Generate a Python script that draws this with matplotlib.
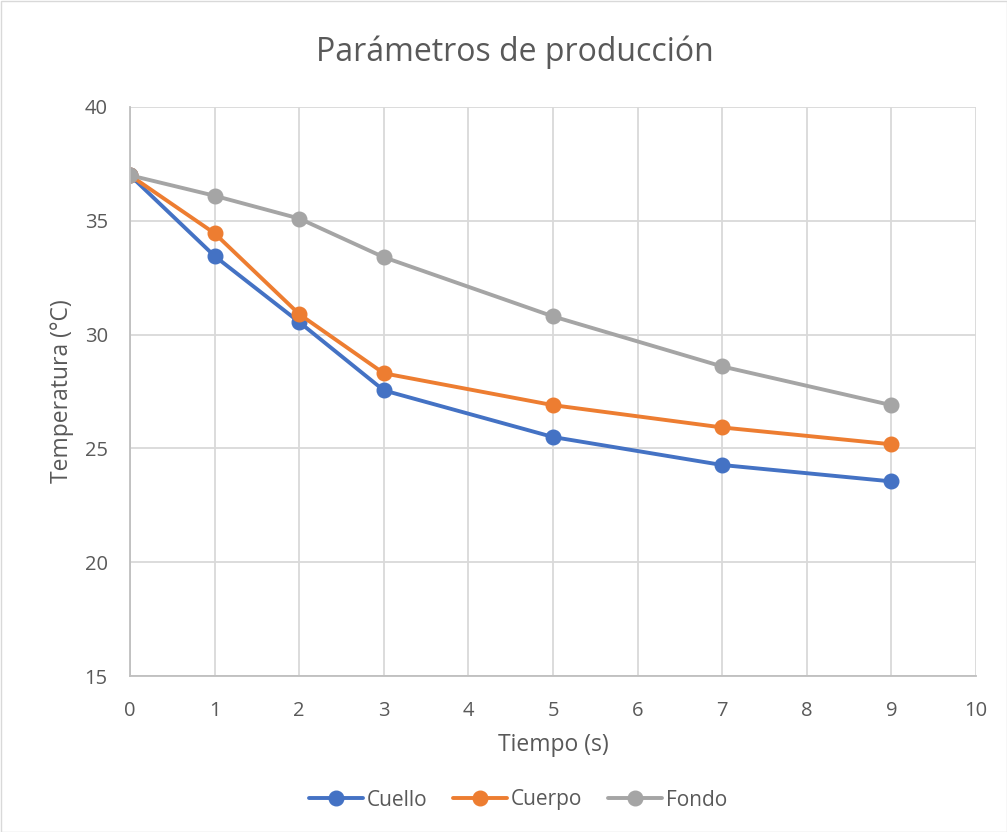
import matplotlib
matplotlib.use("Agg")
import matplotlib.pyplot as plt
from matplotlib.patches import Rectangle

tiempo = [0, 1, 2, 3, 5, 7, 9]
cuello = [37.0, 33.45, 30.55, 27.55, 25.5, 24.27, 23.55]
cuerpo = [37.0, 34.45, 30.9, 28.3, 26.9, 25.92, 25.18]
fondo = [37.0, 36.1, 35.1, 33.4, 30.8, 28.6, 26.9]
series_names = ["Cuello", "Cuerpo", "Fondo"]
colors = ["#4472C4", "#ED7D31", "#A5A5A5"]

plt.rcParams['font.family'] = ['Open Sans', 'DejaVu Sans']
W, H = 1007, 832
fig = plt.figure(figsize=(W/100, H/100), dpi=100)
ax = fig.add_axes([130/W, 1-676/H, (976-130)/W, (676-107)/H])

for ys, name, c in zip([cuello, cuerpo, fondo], series_names, colors):
    ax.plot(tiempo, ys, color=c, lw=2.8, marker='o', ms=10.5, label=name, solid_capstyle='round')

ax.set_xlim(0, 10)
ax.set_ylim(15, 40)
ax.set_xticks(range(0, 11))
ax.set_yticks(range(15, 41, 5))
ax.grid(True, color='#D9D9D9', lw=1.3)
ax.set_axisbelow(True)
for s in ['top', 'right']:
    ax.spines[s].set_visible(False)
for s in ['left', 'bottom']:
    ax.spines[s].set_color('#BFBFBF')
    ax.spines[s].set_linewidth(1.3)
ax.tick_params(axis='y', colors='#595959', labelsize=14.5, length=0, pad=16)
ax.tick_params(axis='x', colors='#595959', labelsize=14.5, length=0, pad=18)

ax.set_xlabel("Tiempo (s)", fontsize=16.5, color='#595959')
ax.set_ylabel("Temperatura (°C)", fontsize=16.5, color='#595959')
ax.xaxis.set_label_coords(0.5, -(745-676)/(676-107), transform=ax.transAxes)
ax.yaxis.set_label_coords(-(130-62)/(976-130), 0.5, transform=ax.transAxes)
ax.xaxis.label.set_va('center')
ax.yaxis.label.set_va('center')
fig.text(515/W, 1-52/H, "Parámetros de producción", ha='center', va='center',
         fontsize=23, color='#595959')

leg = fig.legend(loc='center', bbox_to_anchor=(518/W, 1-800/H), ncol=3, frameon=False,
                 fontsize=15, labelcolor='#595959', handlelength=2.6, columnspacing=1.2,
                 handletextpad=0.2)

fig.patches.append(Rectangle((0.5/W, 0.5/H), 1-1/W, 1-1/H, transform=fig.transFigure,
                             fill=False, edgecolor='#D9D9D9', lw=1))
fig.savefig("out.png", dpi=100, facecolor='white')
